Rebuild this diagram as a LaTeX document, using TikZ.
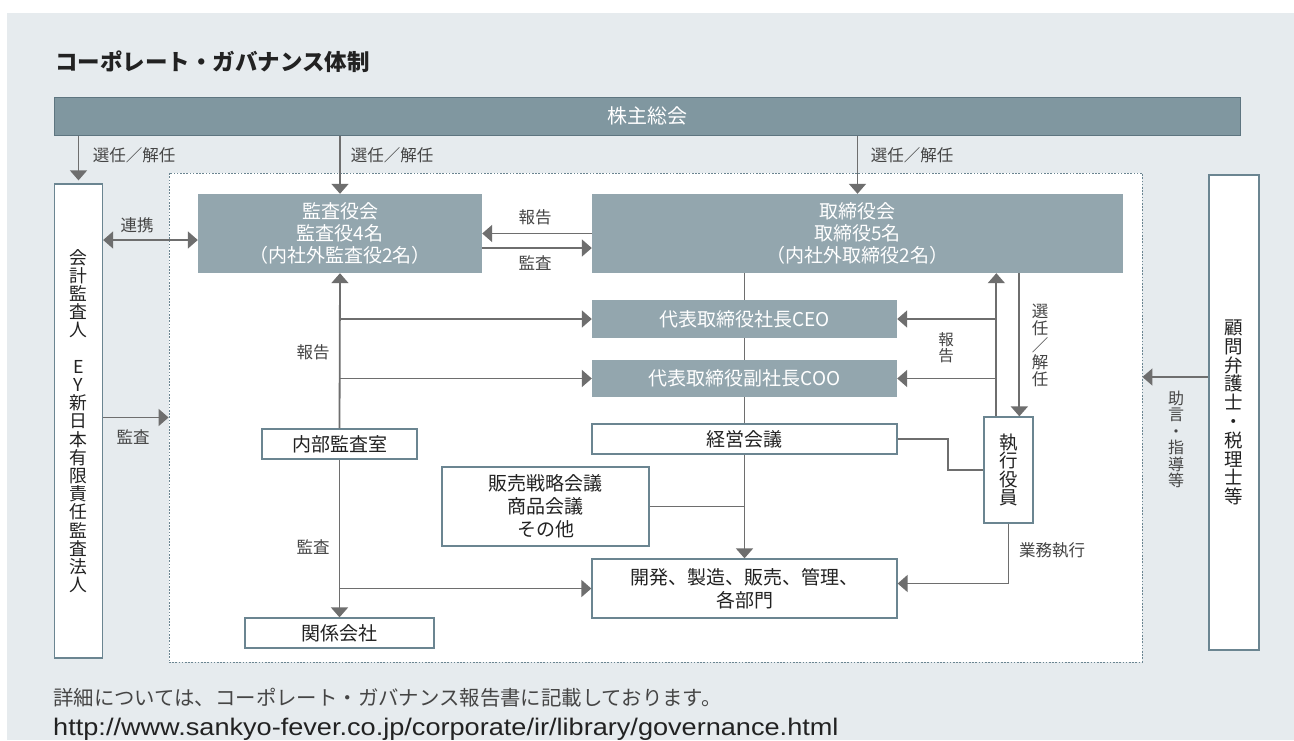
\documentclass[tikz,border=0pt]{standalone}
\usepackage{fontspec}
\setmainfont{Noto Sans CJK JP}
\newfontfamily\urlfont{Liberation Sans}
\usetikzlibrary{arrows.meta}
\definecolor{bgpanel}{HTML}{E6EBEE}
\definecolor{barfill}{HTML}{8097A0}
\definecolor{barline}{HTML}{5E7580}
\definecolor{boxfill}{HTML}{93A6AE}
\definecolor{boxline}{HTML}{6B8591}
\definecolor{conn}{HTML}{6E6E6E}
\definecolor{labeltext}{HTML}{454545}
\definecolor{maintext}{HTML}{222222}
\tikzset{
  filledbox/.style={rectangle, fill=boxfill, draw=none, text=white, align=center, inner sep=0pt,
    font=\fontsize{19}{22}\selectfont},
  whitebox/.style={rectangle, fill=white, draw=boxline, line width=1.3pt, text=maintext, align=center, inner sep=0pt,
    font=\fontsize{19}{23}\selectfont},
  lbl/.style={text=labeltext, inner sep=0pt, font=\fontsize{16.5}{17}\selectfont},
  vlbl/.style={text=labeltext, inner sep=0pt, align=center},
  conline/.style={draw=conn, line width=1.8pt},
  arr/.style={conline, -{Triangle[width=17pt,length=10pt]}},
  darr/.style={conline, {Triangle[width=17pt,length=10pt]}-{Triangle[width=17pt,length=10pt]}},
}
\begin{document}
\begin{tikzpicture}[x=1pt,y=-1pt]
\useasboundingbox (0,0) rectangle (1294,740);
\fill[white] (0,0) rectangle (1294,740);
\fill[bgpanel] (7,13) rectangle (1294,740);

\node[anchor=west, text=maintext, inner sep=0pt, font=\fontsize{22.5}{24}\selectfont\bfseries] (title) at (55,62) {コーポレート・ガバナンス体制};

% inner dotted area
\node[rectangle, fill=white, draw=boxline, line width=0.9pt, dash pattern=on 1.6pt off 1.6pt,
  minimum width=973pt, minimum height=489pt, inner sep=0pt] (inner) at (655.5,417.5) {};

% top bar
\node[rectangle, fill=barfill, draw=barline, line width=1pt, text=white, minimum width=1186pt, minimum height=38pt,
  inner sep=0pt, font=\fontsize{20}{22}\selectfont] (bar) at (647,116) {株主総会};

% side boxes
\node[whitebox, minimum width=48pt, minimum height=474pt, font=\fontsize{17.8}{18.2}\selectfont] (kaikei) at (78.5,421)
  {会\\計\\監\\査\\人\\[18.2pt]E\\Y\\新\\日\\本\\有\\限\\責\\任\\監\\査\\法\\人};
\node[whitebox, minimum width=50pt, minimum height=475pt, font=\fontsize{18.5}{18.8}\selectfont] (komon) at (1234,412.5)
  {顧\\問\\弁\\護\\士\\・\\税\\理\\士\\等};

% main boxes
\node[filledbox, minimum width=284pt, minimum height=79pt] (kansa) at (340,233.5) {監査役会\\監査役4名\\（内社外監査役2名）};
\node[filledbox, minimum width=531pt, minimum height=79pt] (tori) at (857.5,233.5) {取締役会\\取締役5名\\（内社外取締役2名）};
\node[filledbox, minimum width=305pt, minimum height=38pt] (ceo) at (744.5,319) {代表取締役社長CEO};
\node[filledbox, minimum width=305pt, minimum height=37pt] (coo) at (744.5,378.5) {代表取締役副社長COO};
\node[whitebox, minimum width=305pt, minimum height=30pt] (keiei) at (744.5,439) {経営会議};
\node[whitebox, minimum width=49pt, minimum height=106pt, font=\fontsize{18.5}{18.5}\selectfont] (shikko) at (1008.5,470) {執\\行\\役\\員};
\node[whitebox, minimum width=305pt, minimum height=59pt] (kaihatsu) at (744.5,588.5) {開発、製造、販売、管理、\\各部門};
\node[whitebox, minimum width=207pt, minimum height=79pt] (hanbai) at (545.5,506.5) {販売戦略会議\\商品会議\\その他};
\node[whitebox, minimum width=155pt, minimum height=30pt] (naibu) at (339.5,444) {内部監査室};
\node[whitebox, minimum width=189pt, minimum height=30pt] (kankei) at (339.5,633) {関係会社};

% coordinates
\coordinate (k1) at ([yshift=-6.5pt]kansa.west);
\coordinate (adv) at ([yshift=40.5pt]inner.east);
\coordinate (shU) at ([xshift=13pt]shikko.north west);
\coordinate (shS) at ([xshift=36pt]shikko.north west);
\coordinate (kbend) at ([xshift=50pt]keiei.east);
\coordinate (kaiE) at ([yshift=5pt]kaihatsu.east);

% connectors from bar
\draw[arr] (kaikei.north |- bar.south) -- ([yshift=3pt]kaikei.north);
\draw[arr] (kansa.north |- bar.south) -- (kansa.north);
\draw[arr] (tori.north |- bar.south) -- (tori.north);

% side connectors
\draw[darr] (kaikei.east |- k1) -- (k1);
\draw[arr] (kaikei.east |- inner.west) -- (inner.west);
\draw[arr] (komon.west |- adv) -- (adv);

% between kansa and tori
\draw[arr] (tori.west) -- (kansa.east);
\draw[arr] ([yshift=-14.5pt]kansa.east) -- ([yshift=-14.5pt]tori.west);

% internal audit
\draw[arr] (naibu.north) -- (kansa.south);
\draw[arr] (naibu.north |- ceo.west) -- (ceo.west);
\draw[arr] (naibu.north |- coo.west) -- (coo.west);
\draw[arr] (naibu.south) -- (kankei.north);
\draw[arr] (naibu.south |- kaihatsu.west) -- (kaihatsu.west);

% central spine
\draw[conline] (ceo.north |- tori.south) -- (ceo.north);
\draw[conline] (ceo.south) -- (coo.north);
\draw[conline] (coo.south) -- (keiei.north);
\draw[arr] (keiei.south) -- (kaihatsu.north);
\draw[conline] (hanbai.east) -- (hanbai.east -| keiei.south);

% executive officers
\draw[conline] (keiei.east) -- (kbend) |- (shikko.west);
\draw[arr] (shU) -- (shU |- tori.south);
\draw[arr] (shU |- ceo.east) -- (ceo.east);
\draw[arr] (shU |- coo.east) -- (coo.east);
\draw[arr] (shS |- tori.south) -- (shS);
\draw[arr] (shikko.south) |- (kaiE);

% labels
\node[lbl] (l1) at (134,155) {選任／解任};
\node[lbl] (l2) at (392,155) {選任／解任};
\node[lbl] (l3) at (912,155) {選任／解任};
\node[lbl] (l4) at (137,225) {連携};
\node[lbl] (l5) at (133,437) {監査};
\node[lbl] (l6) at (535,217) {報告};
\node[lbl] (l7) at (535,263) {監査};
\node[lbl] (l8) at (313,352) {報告};
\node[lbl] (l9) at (313,547) {監査};
\node[lbl] (l10) at (1052,550) {業務執行};
\node[vlbl, font=\fontsize{15.5}{15.5}\selectfont] (l11) at (946,347.5) {報\\告};
\node[vlbl, font=\fontsize{16.5}{17}\selectfont] (l12) at (1040,345.5) {選\\任\\／\\解\\任};
\node[vlbl, font=\fontsize{16}{16.5}\selectfont] (l13) at (1176,439.5) {助\\言\\・\\指\\導\\等};

% footer
\node[anchor=base west, inner sep=0pt, text=labeltext, font=\fontsize{20.4}{21}\selectfont] (foot1) at (53,705) {詳細については、コーポレート・ガバナンス報告書に記載しております。};
\node[anchor=base west, inner sep=0pt, text=maintext, xscale=1.13, font=\urlfont\fontsize{24}{26}\selectfont] (foot2) at (53,735) {http://www.sankyo-fever.co.jp/corporate/ir/library/governance.html};
\end{tikzpicture}
\end{document}
